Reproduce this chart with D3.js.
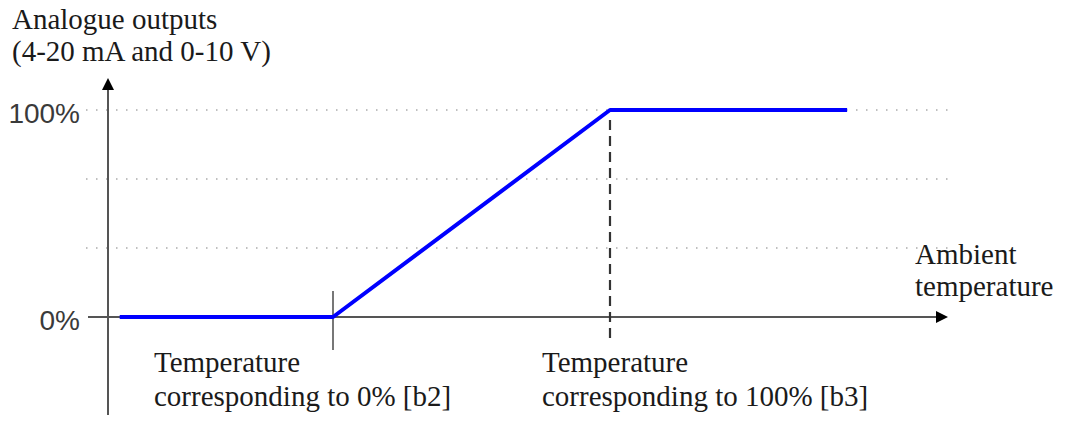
<!DOCTYPE html>
<html><head><meta charset="utf-8">
<script src="https://cdn.jsdelivr.net/npm/d3@7"></script>
<style>body{margin:0;background:#fff}svg{display:block}
.serif{font-family:"Liberation Serif","Times New Roman",serif}
.sans{font-family:"Liberation Sans",Arial,sans-serif}</style>
</head><body>
<svg id="c" width="1067" height="421"></svg>
<script>
// Data (temperature in units where b2 = 0, b3 = 1)
const temps = [-0.77, 0, 1, 1.856];
const outputs = [0, 0, 100, 100];
const gridValues = [100/3, 200/3, 100];
const tickValues = [0, 100];
const tickLabels = ["0%", "100%"];
const markers = [0, 1]; // b2, b3

const svg = d3.select("#c");
const x = d3.scaleLinear().domain([0, 1]).range([333, 610]);
const y = d3.scaleLinear().domain([0, 100]).range([317, 110]);
const axisX = x.invert(108);

svg.append("defs").append("marker").attr("id","arr").attr("viewBox","0 0 10 10")
  .attr("refX",0).attr("refY",5).attr("markerWidth",12).attr("markerHeight",12)
  .attr("markerUnits","userSpaceOnUse").attr("orient","auto")
  .append("path").attr("d","M0,0L10,5L0,10z").attr("fill","#000");

// dotted grid
svg.selectAll(".grid").data(gridValues).enter().append("line")
  .attr("x1",86).attr("x2",952).attr("y1",d=>y(d)).attr("y2",d=>y(d))
  .attr("stroke","#aaa").attr("stroke-width",1.5).attr("stroke-dasharray","1.5,8.5");

// x axis
svg.append("line").attr("x1",88).attr("x2",936).attr("y1",y(0)).attr("y2",y(0))
  .attr("stroke","#555").attr("stroke-width",2).attr("marker-end","url(#arr)");
// y axis
svg.append("line").attr("x1",x(axisX)).attr("x2",x(axisX)).attr("y1",415).attr("y2",90)
  .attr("stroke","#555").attr("stroke-width",2).attr("marker-end","url(#arr)");

// b2 tick
svg.append("line").attr("x1",x(markers[0])).attr("x2",x(markers[0])).attr("y1",291).attr("y2",350)
  .attr("stroke","#777").attr("stroke-width",2);
// b3 dashed
svg.append("line").attr("x1",x(markers[1])).attr("x2",x(markers[1])).attr("y1",y(100)+10).attr("y2",343)
  .attr("stroke","#333").attr("stroke-width",2.2).attr("stroke-dasharray","10,6");

// blue line
const line = d3.line().x((d,i)=>x(temps[i])).y(d=>y(d));
svg.append("path").datum(outputs).attr("d",line).attr("fill","none")
  .attr("stroke","#0000ff").attr("stroke-width",4).attr("stroke-linejoin","round");

// y tick labels
svg.selectAll(".yl").data(tickValues).enter().append("text").attr("class","sans")
  .attr("x",80).attr("y",d=>y(d)+13).attr("text-anchor","end")
  .attr("font-size",28).attr("fill","#3a3a3a")
  .text((d,i)=>tickLabels[i]);

function txt(s,xp,yp,anchor){
  svg.append("text").attr("class","serif").attr("x",xp).attr("y",yp).attr("text-anchor",anchor||"start")
    .attr("font-size",29).attr("fill","#1a1a1a").text(s);
}
txt("Analogue outputs",12,29);
txt("(4-20 mA and 0-10 V)",12,61);
txt("Ambient",915,264);
txt("temperature",915,296);
txt("Temperature",154,372);
txt("corresponding to 0% [b2]",154,406);
txt("Temperature",542,372);
txt("corresponding to 100% [b3]",542,406);
</script>
</body></html>
